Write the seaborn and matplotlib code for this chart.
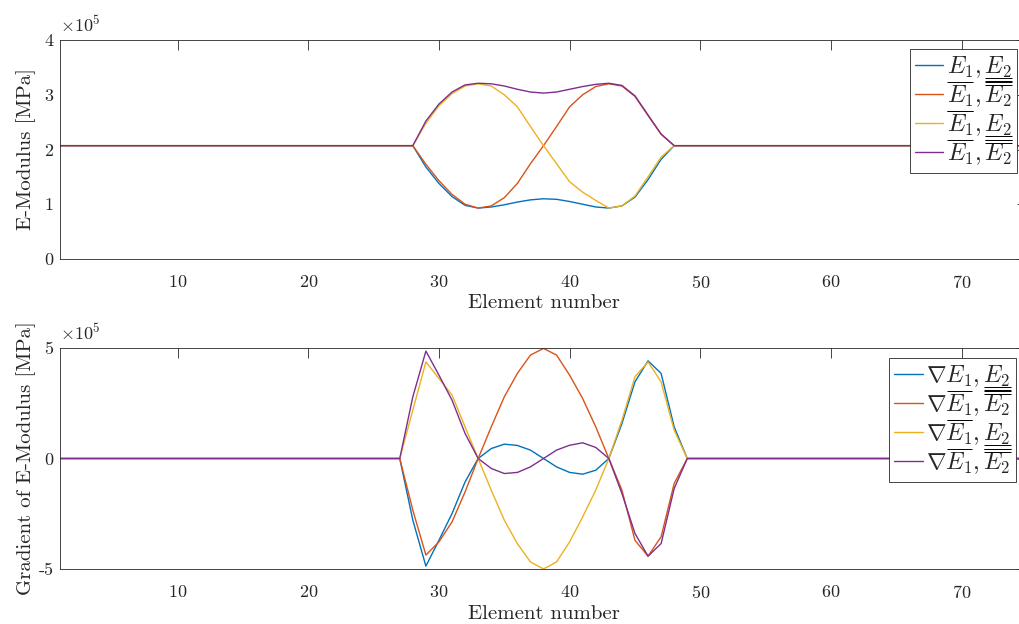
import numpy as np
import pandas as pd
import matplotlib
matplotlib.use("Agg")
import matplotlib.pyplot as plt
import seaborn as sns
from matplotlib.lines import Line2D
from matplotlib.ticker import ScalarFormatter

# element numbers, values only change inside 28..48
elements = np.arange(1, 76)
design = np.arange(28, 49)

# E-modulus, in 1e5 MPa
E_outside = 2.07
E_lo_lo = [2.07, 1.68, 1.38, 1.14, 0.98, 0.93, 0.95, 0.99, 1.04, 1.08, 1.10,
           1.09, 1.05, 1.00, 0.95, 0.93, 0.97, 1.13, 1.45, 1.82, 2.07]
E_lo_up = [2.07, 1.73, 1.43, 1.18, 1.00, 0.93, 0.97, 1.12, 1.38, 1.74, 2.07,
           2.42, 2.78, 3.00, 3.15, 3.20, 3.16, 2.97, 2.62, 2.28, 2.07]
E_up_lo = [2.07, 2.48, 2.80, 3.02, 3.16, 3.20, 3.16, 3.00, 2.78, 2.42, 2.07,
           1.74, 1.41, 1.22, 1.07, 0.93, 0.97, 1.15, 1.50, 1.86, 2.07]
E_up_up = [2.07, 2.52, 2.83, 3.05, 3.18, 3.21, 3.20, 3.16, 3.10, 3.05, 3.03,
           3.05, 3.10, 3.15, 3.19, 3.21, 3.17, 2.98, 2.63, 2.28, 2.07]

# gradient, in 1e5 MPa
dE_outside = 0.0
dE_lo_lo = [-2.79, -4.87, -3.70, -2.49, -1.06, 0.00, 0.45, 0.65, 0.59, 0.38, 0.00,
            -0.38, -0.63, -0.71, -0.53, 0.00, 1.58, 3.47, 4.42, 3.85, 1.43]
dE_lo_up = [-2.34, -4.37, -3.77, -2.87, -1.51, 0.00, 1.43, 2.79, 3.85, 4.68, 4.98,
            4.68, 3.77, 2.71, 1.43, 0.00, -1.43, -3.70, -4.42, -3.54, -1.13]
dE_up_lo = [2.19, 4.37, 3.62, 2.87, 1.43, 0.00, -1.43, -2.79, -3.85, -4.68, -5.00,
            -4.68, -3.77, -2.64, -1.43, 0.00, 1.73, 3.70, 4.37, 3.47, 1.28]
dE_up_up = [2.79, 4.86, 3.77, 2.64, 1.13, 0.00, -0.45, -0.68, -0.63, -0.38, 0.00,
            0.38, 0.60, 0.71, 0.50, 0.00, -1.58, -3.39, -4.42, -3.85, -1.36]

cases = ["lo_lo", "lo_up", "up_lo", "up_up"]
colors = ["#0072BD", "#D95319", "#EDB120", "#7E2F8E"]
# bars on (E1, E2) per legend entry: u = underline, o = overline, number = single/double
marks = [(("u", 1), ("u", 2)), (("u", 1), ("o", 2)),
         (("o", 1), ("u", 2)), (("o", 1), ("o", 2))]

sns.set_style("white")
plt.rcParams["font.family"] = ["cmr10"]
plt.rcParams["mathtext.fontset"] = "cm"
plt.rcParams["axes.unicode_minus"] = False
plt.rcParams["axes.formatter.use_mathtext"] = True


class PlainTickSci(ScalarFormatter):
    # keep the x10^5 offset text, but plain tick labels (short hyphen like MATLAB)
    def __call__(self, x, pos=None):
        s = super().__call__(x, pos)
        return s.replace("$\\mathdefault{", "").replace("}$", "")


def long_table(series, outside):
    parts = []
    for case, vals in zip(cases, series):
        y = np.full(elements.size, outside, dtype=float)
        y[design - 1] = vals
        parts.append(pd.DataFrame({"element": elements, "value": y * 1e5, "case": case}))
    return pd.concat(parts, ignore_index=True)


top_df = long_table([E_lo_lo, E_lo_up, E_up_lo, E_up_up], E_outside)
bot_df = long_table([dE_lo_lo, dE_lo_up, dE_up_lo, dE_up_up], dE_outside)

W, H = 1019, 624
fig = plt.figure(figsize=(W / 100, H / 100), dpi=100)
ax1 = fig.add_axes([60 / W, 365 / H, 967 / W, 219 / H])
ax2 = fig.add_axes([60 / W, 55 / H, 967 / W, 221 / H])

for ax, df in [(ax1, top_df), (ax2, bot_df)]:
    sns.lineplot(data=df, x="element", y="value", hue="case", hue_order=cases,
                 palette=colors, linewidth=1.0, legend=False, ax=ax)


def style(ax, ylim, yticks, ylabel):
    ax.set_xlim(1, 75)
    ax.set_ylim(*ylim)
    ax.set_xticks(range(10, 80, 10))
    ax.set_yticks(yticks)
    fmt = PlainTickSci(useMathText=True)
    fmt.set_powerlimits((0, 0))
    ax.yaxis.set_major_formatter(fmt)
    ax.yaxis.OFFSETTEXTPAD = 6
    ax.tick_params(direction="in", length=7, width=0.6, color="#262626",
                   top=True, right=True, labelsize=13, labelcolor="#262626")
    ax.tick_params(axis="x", pad=10.5)
    ax.tick_params(axis="y", pad=4.8)
    ax.yaxis.get_offset_text().set_fontsize(13)
    for s in ax.spines.values():
        s.set_color("#262626")
        s.set_linewidth(0.6)
    ax.set_xlabel("Element number", fontsize=15, color="#262626")
    ax.set_ylabel(ylabel, fontsize=15, color="#262626")
    ax.xaxis.set_label_coords(0.5, -0.162)
    ax.yaxis.set_label_coords(-0.025, 0.5)


style(ax1, (0, 4e5), [0, 1e5, 2e5, 3e5, 4e5], "E-Modulus [MPa]")
style(ax2, (-5e5, 5e5), [-5e5, 0, 5e5], "Gradient of E-Modulus [MPa]")


def make_legend(ax, prefix, anchor):
    labels = [f"${prefix}E_1, E_2$"] * 4
    leg = ax.legend(ax.lines[:4], labels, loc="upper right", bbox_to_anchor=anchor,
                    bbox_transform=fig.transFigure, borderaxespad=0, fontsize=17,
                    frameon=True, fancybox=False, framealpha=1, edgecolor="#262626",
                    handlelength=1.2, handletextpad=0.15, labelspacing=0.15,
                    borderpad=0.22)
    leg.get_frame().set_linewidth(0.6)
    return leg


leg1 = make_legend(ax1, "", (1017 / W, (H - 49) / H))
leg2 = make_legend(ax2, r"\nabla ", (1016 / W, (H - 358) / H))

# mathtext has no \underline, so the bars are added after a first draw
fig.canvas.draw()
renderer = fig.canvas.get_renderer()
to_fig = fig.transFigure.inverted()


def decorate(leg, prefix):
    for txt, entry in zip(leg.get_texts(), marks):
        fp = txt.get_fontproperties()

        def width(s):
            return renderer.get_text_width_height_descent(s, fp, ismath=True)[0]

        bb = txt.get_window_extent(renderer)
        start1 = bb.x0 + (width(f"${prefix}$") if prefix else 0)
        spans = [(start1, bb.x0 + width(f"${prefix}E_1$")),
                 (bb.x1 - width("$E_2$"), bb.x1)]
        for (x0, x1), (kind, n) in zip(spans, entry):
            for k in range(n):
                y = bb.y0 - 2.0 - 3.2 * k if kind == "u" else bb.y1 + 2.0 + 3.2 * k
                (fx0, fy), (fx1, _) = to_fig.transform([(x0, y), (x1, y)])
                fig.add_artist(Line2D([fx0, fx1], [fy, fy], color="black", lw=0.7,
                                      solid_capstyle="butt"))


decorate(leg1, "")
decorate(leg2, r"\nabla ")

fig.savefig("out.png", dpi=100)
